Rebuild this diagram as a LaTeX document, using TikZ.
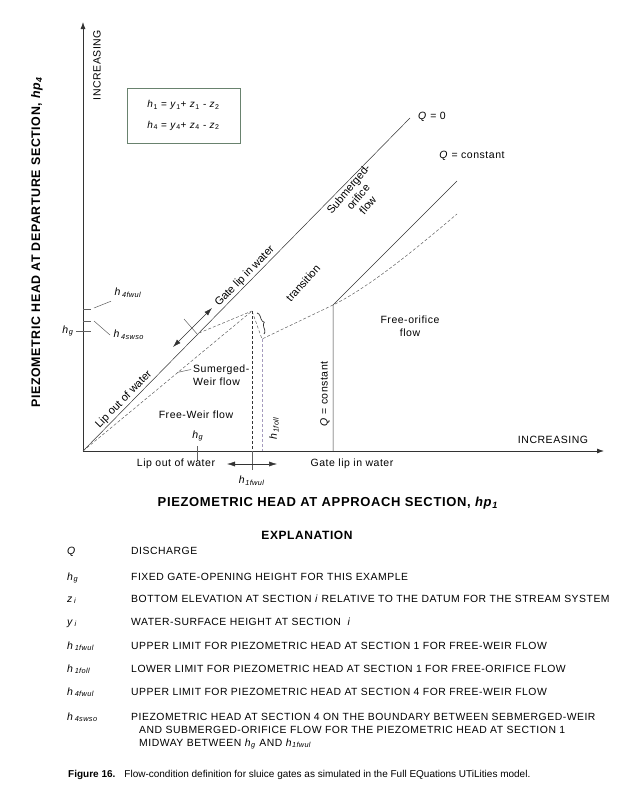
\documentclass[tikz,border=0pt]{standalone}
\usepackage{fontspec}
\setmainfont{Liberation Sans}
\newfontfamily\spaced[LetterSpace=5]{Liberation Sans}
\usetikzlibrary{arrows.meta, positioning, decorations.pathreplacing}
\definecolor{lineDark}{gray}{0.2}
\definecolor{lineGray}{gray}{0.38}
\definecolor{lineLila}{RGB}{165,155,190}
\definecolor{boxEdge}{RGB}{105,130,110}
\newcommand{\hsub}[2]{\textit{#1}\textsubscript{\textit{#2}}}

\begin{document}
\begin{tikzpicture}[x=1pt, y=-1pt,
  font=\spaced\fontsize{10.5}{12.5}\selectfont,
  axisline/.style={draw=lineDark, line width=0.8pt, -{Latex[length=7pt,width=5pt]}},
  limit/.style={draw=lineDark, line width=0.5pt},
  bound/.style={draw=lineGray, dash pattern=on 3pt off 2pt, line width=0.5pt},
  tick/.style={draw=lineGray, line width=0.5pt},
  both/.style={{Latex[length=8pt,width=5pt]}-{Latex[length=8pt,width=5pt]}, draw=lineDark, line width=0.5pt},
  tag/.style={inner sep=1pt, align=center},
  slant/.style={inner sep=1.5pt, align=center, font=\fontsize{11}{12.5}\selectfont},
  title/.style={font=\spaced\bfseries\fontsize{13}{15}\selectfont},
  eqbox/.style={draw=boxEdge, line width=0.6pt, minimum width=113pt, minimum height=55pt,
                align=center, font=\spaced\fontsize{10}{12.5}\selectfont},
  sym/.style={anchor=base west, inner sep=0pt, font=\spaced\fontsize{10.5}{13}\selectfont},
  expl/.style={anchor=base west, inner sep=0pt, font=\spaced\fontsize{10.4}{13}\selectfont}
]
\useasboundingbox (0,0) rectangle (640,795);

% main points of the chart
\coordinate (O) at (83,451);
\coordinate (ytip) at (83,22);
\coordinate (xtip) at (604,451);
\coordinate (zero) at (410,118);
\coordinate (peak) at (252,311);
\coordinate (foll) at (262,339);
\coordinate (knee) at (333,305);
\coordinate (qtop) at (457,181);
\coordinate (dtop) at (457,214);
\coordinate (swso) at (199,333);
\coordinate (fwul) at (252,470);
\coordinate (armA) at (173,347);
\coordinate (armB) at (212,308);
\coordinate (crossA) at (184,319);
\coordinate (crossB) at (198,335);
\coordinate (lowA) at (227,464);
\coordinate (lowB) at (277,464);
\coordinate (braceA) at (257,313);
\coordinate (braceB) at (264,334);
\coordinate (leadA) at (177,372.5);
\coordinate (leadB) at (191,369.5);

\draw[axisline] (O) -- (ytip);
\draw[axisline] (O) -- (xtip);

\draw[limit] (O) -- (zero)
  node[slant, pos=0.14, sloped, above] (lipout) {Lip out of water}
  node[slant, pos=0.51, sloped, above] (lipin) {Gate lip in water};
\draw[limit] (knee |- O) -- (knee) -- (qtop);

\draw[bound] (O) -- (peak) -- (foll) -- (knee) .. controls (372,286) and (425,241) .. (dtop);
\draw[bound] (swso) -- (peak);
\draw[bound, draw=lineDark] (peak) -- (peak |- O);
\draw[bound, draw=lineLila] (foll) -- (foll |- O);
\draw[tick] (peak |- O) -- (fwul);
\draw[draw=lineDark, line width=0.7pt, decorate, decoration={brace, amplitude=4pt}] (braceA) -- (braceB);

\draw[both] (armA) -- (armB);
\draw[tick] (crossA) -- (crossB);
\draw[both] (lowA) -- (lowB);
\draw[tick] (leadA) -- (leadB);

% labels inside the chart
\node (zerolbl) at (432,117) {\textit{Q} = 0};
\node (constlbl) at (472,156) {\textit{Q} = constant};
\node[rotate=90] (constvert) at (325,394) {\textit{Q} = constant};
\node[slant, rotate=48] (trans) at (303,283) {transition};
\node[slant, rotate=50] (subor) at (358,197) {Submerged-\\orifice\\flow};
\node[tag] (freeor) at (410,326) {Free-orifice\\flow};
\node[tag, anchor=west, align=left] (sumw) at (192,375) {Sumerged-\\Weir flow};
\node[tag] (freew) at (196,415) {Free-Weir flow};

\node[eqbox] (eqs) at (183.5,115.5) {\textit{h}\textsubscript{1} = \textit{y}\textsubscript{1}+ \textit{z}\textsubscript{1} - \textit{z}\textsubscript{2}\\[8pt]
  \textit{h}\textsubscript{4} = \textit{y}\textsubscript{4}+ \textit{z}\textsubscript{4} - \textit{z}\textsubscript{2}};

% axis marks and names
\draw[tick] (197,446) -- (197,461);
\node (hgx) at (198,436) {\hsub{h}{g}};
\node (lipoutx) at (176,464) {Lip out of water};
\node (lipinx) at (352,464) {Gate lip in water};
\node (fwulx) at (252,481) {\hsub{h}{1fwul}};
\node[rotate=90] (follx) at (274,428) {\hsub{h}{1foll}};
\node (incx) at (553,440) {INCREASING};
\node[rotate=90] (incy) at (97,65) {INCREASING};

\coordinate (tkg) at (76,331);
\coordinate (tkfwul) at (83,309);
\coordinate (tkswso) at (83,321);
\draw[tick] (tkg) -- (91,331);
\draw[tick] (tkfwul) -- (91,309);
\draw[tick] (tkswso) -- (91,321);
\node[anchor=east, inner sep=2pt] (hgy) at (tkg) {\hsub{h}{g}};
\node[anchor=west] (fwuly) at (111,293) {\hsub{h}{\,4fwul}};
\node[anchor=west] (swsoy) at (110,335) {\hsub{h}{\,4swso}};
\draw[tick] (94,308) -- (fwuly.south west);
\draw[tick] (94,321) -- (swsoy.west);

\node[title, rotate=90, font=\spaced\bfseries\fontsize{12.4}{15}\selectfont] (ytitle) at (37,242) {PIEZOMETRIC HEAD AT DEPARTURE SECTION, \textit{hp}\textsubscript{\textit{4}}};
\node[title] (xtitle) at (328,503) {PIEZOMETRIC HEAD AT APPROACH SECTION, \textit{hp}\textsubscript{\textit{1}}};

% explanation
\node[title, font=\spaced\bfseries\fontsize{12}{14}\selectfont] (explain) at (307,535) {EXPLANATION};
\node[sym] (s1) at (67,554) {\textit{Q}};
\node[expl] (d1) at (131,554) {DISCHARGE};
\node[sym] (s2) at (67,580) {\hsub{h}{g}};
\node[expl] (d2) at (131,580) {FIXED GATE-OPENING HEIGHT FOR THIS EXAMPLE};
\node[sym] (s3) at (67,602) {\hsub{z}{\,i}};
\node[expl] (d3) at (131,602) {BOTTOM ELEVATION AT SECTION \textit{i} RELATIVE TO THE DATUM FOR THE STREAM SYSTEM};
\node[sym] (s4) at (67,625) {\hsub{y}{\,i}};
\node[expl] (d4) at (131,625) {WATER-SURFACE HEIGHT AT SECTION \ \textit{i}};
\node[sym] (s5) at (67,649) {\hsub{h}{\,1fwul}};
\node[expl] (d5) at (131,649) {UPPER LIMIT FOR PIEZOMETRIC HEAD AT SECTION 1 FOR FREE-WEIR FLOW};
\node[sym] (s6) at (67,672) {\hsub{h}{\,1foll}};
\node[expl] (d6) at (131,672) {LOWER LIMIT FOR PIEZOMETRIC HEAD AT SECTION 1 FOR FREE-ORIFICE FLOW};
\node[sym] (s7) at (67,695) {\hsub{h}{\,4fwul}};
\node[expl] (d7) at (131,695) {UPPER LIMIT FOR PIEZOMETRIC HEAD AT SECTION 4 FOR FREE-WEIR FLOW};
\node[sym] (s8) at (67,720) {\hsub{h}{\,4swso}};
\node[expl] (d8) at (131,720) {PIEZOMETRIC HEAD AT SECTION 4 ON THE BOUNDARY BETWEEN SEBMERGED-WEIR};
\node[expl] (d8b) at (139,733) {AND SUBMERGED-ORIFICE FLOW FOR THE PIEZOMETRIC HEAD AT SECTION 1};
\node[expl] (d8c) at (139,746) {MIDWAY BETWEEN \hsub{h}{g} AND \hsub{h}{1fwul}};

\node[anchor=base west, inner sep=0pt, font=\fontsize{10}{12}\selectfont] (caption) at (68,777)
  {\textbf{Figure 16.}\hspace{0.9em}Flow-condition definition for sluice gates as simulated in the Full EQuations UTiLities model.};

\end{tikzpicture}
\end{document}
